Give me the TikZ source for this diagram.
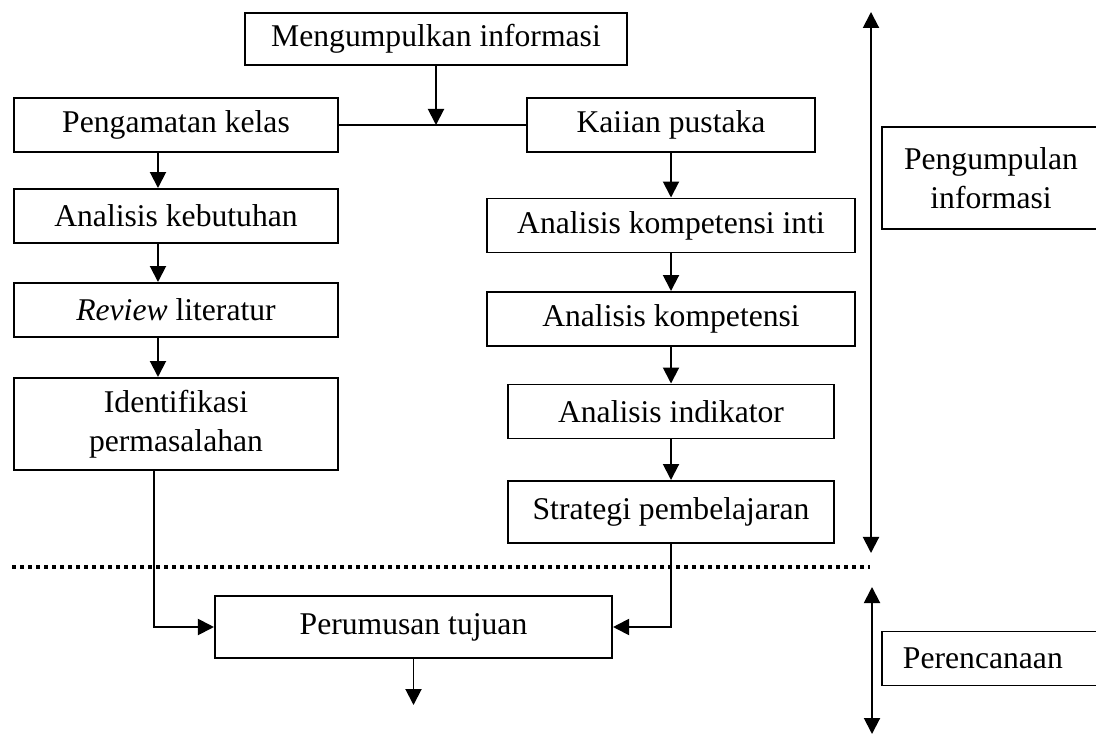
\documentclass[tikz,border=0pt]{standalone}
\usepackage{fontspec}
\setmainfont{Liberation Serif}
\usetikzlibrary{arrows.meta,positioning}

\begin{document}
\begin{tikzpicture}[
  x=0.025cm, y=-0.025cm,
  font=\fontsize{22.5}{28}\selectfont,
  box/.style={draw, line width=1.4pt, inner sep=2pt, minimum height=1.35cm, align=center},
  arr/.style={line width=1.4pt, -{Triangle[length=4mm, width=4mm]}},
  link/.style={line width=1.4pt},
  phase/.style={line width=1.4pt, {Triangle[length=4mm, width=4mm]}-{Triangle[length=4mm, width=4mm]}},
  divider/.style={line width=2.8pt, dash pattern=on 0.1cm off 0.1cm}
]
\useasboundingbox (0,0) rectangle (1096,734);
\clip (0,0) rectangle (1096,734);

\node[box, minimum width=9.55cm, minimum height=1.3cm] (info) at (436,39) {Mengumpulkan informasi};
\node[box, minimum width=8.1cm] (amat) at (176,125) {Pengamatan kelas};
\node[box, minimum width=7.2cm] (kajian) at (671,125) {Kaiian pustaka};

\node[box, minimum width=8.1cm] (butuh) at (176,216) {Analisis kebutuhan};
\node[box, minimum width=8.1cm] (review) at (176,310) {\textit{Review} literatur};
\node[box, minimum width=8.1cm, minimum height=2.3cm] (ident) at (176,424) {Identifikasi\\permasalahan};

\node[box, minimum width=9.2cm] (aki) at (671,225.5) {Analisis kompetensi inti};
\node[box, minimum width=9.2cm] (ak) at (671,319) {Analisis kompetensi};
\node[box, minimum width=8.125cm] (ai) at (671,411.5) {Analisis indikator};
\node[box, minimum width=8.125cm, minimum height=1.55cm] (strat) at (671,512) {Strategi pembelajaran};

\node[box, minimum width=9.925cm, minimum height=1.55cm] (rumus) at (413.5,627) {Perumusan tujuan};

\node[box, minimum width=5.45cm, minimum height=2.55cm] (kumpul) at (991,178) {Pengumpulan\\informasi};
\node[box, minimum width=5.45cm, text width=4.4cm, inner xsep=0.525cm, align=left] (rencana) at (991,658.5) {Perencanaan};

\draw[link] (amat) -- (kajian);
\draw[arr] (info) -- (info |- amat.east);

\draw[arr] ([xshift=-4.5mm]amat.south) -- ([xshift=-4.5mm]butuh.north);
\draw[arr] ([xshift=-4.5mm]butuh.south) -- ([xshift=-4.5mm]review.north);
\draw[arr] ([xshift=-4.5mm]review.south) -- ([xshift=-4.5mm]ident.north);

\draw[arr] (kajian) -- (aki);
\draw[arr] (aki) -- (ak);
\draw[arr] (ak) -- (ai);
\draw[arr] (ai) -- (strat);

\draw[arr] ([xshift=-5.5mm]ident.south) |- (rumus.west);
\draw[arr] (strat.south) |- (rumus.east);
\coordinate[below=1.15cm of rumus.south] (next);
\draw[arr] (rumus.south) -- (next);

\coordinate (dl) at (12,567);
\coordinate (dr) at (870,567);
\draw[divider] (dl) -- (dr);

\coordinate (p1) at (871,12);
\coordinate (p2) at (871,553);
\coordinate (p3) at (872,587);
\coordinate (p4) at (872,734);
\draw[phase] (p1) -- (p2);
\draw[phase] (p3) -- (p4);
\end{tikzpicture}
\end{document}
